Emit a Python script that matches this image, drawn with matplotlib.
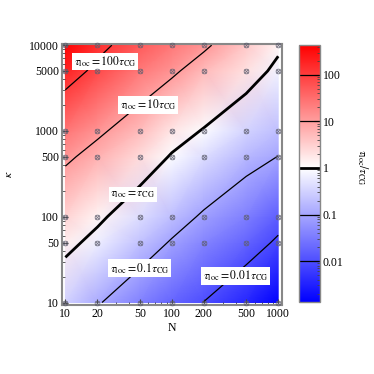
import numpy as np
import matplotlib
matplotlib.use("Agg")
import matplotlib.pyplot as plt
from matplotlib.colors import LinearSegmentedColormap, Normalize

plt.rcParams['font.family'] = ['Liberation Serif', 'DejaVu Serif']
plt.rcParams['mathtext.fontset'] = 'stix'

# ── data ─────────────────────────────────────────────────────────────────────
N_vals     = [10, 20, 50, 100, 200, 500, 1000]
kappa_vals = [10, 50, 100, 500, 1000, 5000, 10000]

# log10(tau_loc / tau_CG); rows = kappa, columns = N
log_ratio = [
    [-0.52, -0.95, -1.41, -1.75, -2.01, -2.44, -2.875],
    [ 0.17, -0.18, -0.69, -1.05, -1.38, -1.74, -2.08],
    [ 0.46,  0.12, -0.39, -0.74, -1.08, -1.44, -1.80],
    [ 1.10,  0.80,  0.37, -0.05, -0.38, -0.786, -1.01],
    [ 1.43,  1.10,  0.69,  0.27, -0.04, -0.49, -0.74],
    [ 2.26,  1.87,  1.39,  1.10,  0.72,  0.295, -0.145],
    [ 2.645, 2.15,  1.71,  1.40,  1.10,  0.56,  0.109],
]

levels     = [-2, -1, 0, 1, 2]
level_text = [r'$\tau_{\rm loc}=0.01\tau_{\rm CG}$',
              r'$\tau_{\rm loc}=0.1\tau_{\rm CG}$',
              r'$\tau_{\rm loc}=\tau_{\rm CG}$',
              r'$\tau_{\rm loc}=10\tau_{\rm CG}$',
              r'$\tau_{\rm loc}=100\tau_{\rm CG}$']
label_pos  = [(400, 20.5), (50, 25), (43, 182), (60, 2000), (23.7, 6450)]

cb_ticks  = [0.01, 0.1, 1, 10, 100]
cb_labels = ['0.01', '0.1', '1', '10', '100']

# ── plotting ─────────────────────────────────────────────────────────────────
lx = np.log10(N_vals)
ly = np.log10(kappa_vals)
X, Y = np.meshgrid(lx, ly)
Z = np.array(log_ratio)

vmin, vmax = Z.min(), Z.max()
f0 = (0 - vmin) / (vmax - vmin)
cmap = LinearSegmentedColormap.from_list(
    'bwr_c', [(0, '#0000ff'), (f0, '#ffffff'), (1, '#ff0000')])
norm = Normalize(vmin=vmin, vmax=vmax)

fig = plt.figure(figsize=(3.74, 3.74), dpi=100)
ax = fig.add_axes([0.166, 0.184, 0.587, 0.698])

mesh = ax.pcolormesh(X, Y, Z, shading='gouraud', cmap=cmap, norm=norm)
cs = ax.contour(X, Y, Z, levels=levels, colors='k', linestyles='solid',
                linewidths=[0.9, 0.9, 2.0, 0.9, 0.9])

for txt, (nx, ky) in zip(level_text, label_pos):
    ax.text(np.log10(nx), np.log10(ky), txt, ha='center', va='center',
            fontsize=8.5, zorder=5,
            bbox=dict(facecolor='white', edgecolor='none', pad=1.2))

# grid of simulated points
ax.plot(X.ravel(), Y.ravel(), 'o', ms=3.4, mfc='none', mec='#606070',
        mew=0.6, alpha=0.85, clip_on=False, zorder=6)
ax.plot(X.ravel(), Y.ravel(), 'x', ms=2.2, mec='#606070',
        mew=0.6, alpha=0.85, clip_on=False, zorder=6)

ax.set_xlim(0.969, 3.032)
ax.set_ylim(0.969, 4.012)

def minor_pos(lo, hi, majors):
    out = []
    for d in range(lo, hi):
        for m in range(1, 10):
            v = m * 10 ** d
            if v not in majors and 10 ** lo <= v <= 10 ** hi:
                out.append(np.log10(v))
    return out

ax.set_xticks(lx)
ax.set_xticklabels([str(v) for v in N_vals])
ax.set_xticks(minor_pos(1, 3, N_vals), minor=True)
ax.set_yticks(ly)
ax.set_yticklabels([str(v) for v in kappa_vals])
ax.set_yticks(minor_pos(1, 4, kappa_vals), minor=True)
ax.tick_params(which='both', direction='in', color='#444444', labelsize=8.5,
               pad=2)
ax.tick_params(which='major', length=4)
ax.tick_params(which='minor', length=2)
for sp in ax.spines.values():
    sp.set_color('#888888')
    sp.set_linewidth(1.5)

ax.set_xlabel('N', fontsize=8.5)
ax.xaxis.set_label_coords(0.5, -0.066)
ax.set_ylabel(r'$\kappa$', fontsize=8.5)
ax.yaxis.set_label_coords(-0.215, 0.5)

# colorbar
cax = fig.add_axes([0.799, 0.193, 0.057, 0.687])
cb = fig.colorbar(mesh, cax=cax)
cb.add_lines(cs)
cb.set_ticks(np.log10(cb_ticks))
cb.set_ticklabels(cb_labels)
cb_minor = [np.log10(m * 10.0 ** d) for d in range(-3, 3) for m in range(2, 10)
            if vmin <= np.log10(m * 10.0 ** d) <= vmax]
cax.set_yticks(cb_minor, minor=True)
cax.tick_params(which='both', direction='in', color='#444444', labelsize=8.5,
                pad=2)
cax.tick_params(which='major', length=4)
cax.tick_params(which='minor', length=2)
cb.outline.set_edgecolor('#888888')
cb.outline.set_linewidth(1.0)

fig.text(0.968, 0.553, r'$\tau_{\rm loc}/\tau_{\rm CG}$', rotation=270,
         ha='center', va='center', fontsize=8.5)

fig.savefig('out.png', dpi=100)
